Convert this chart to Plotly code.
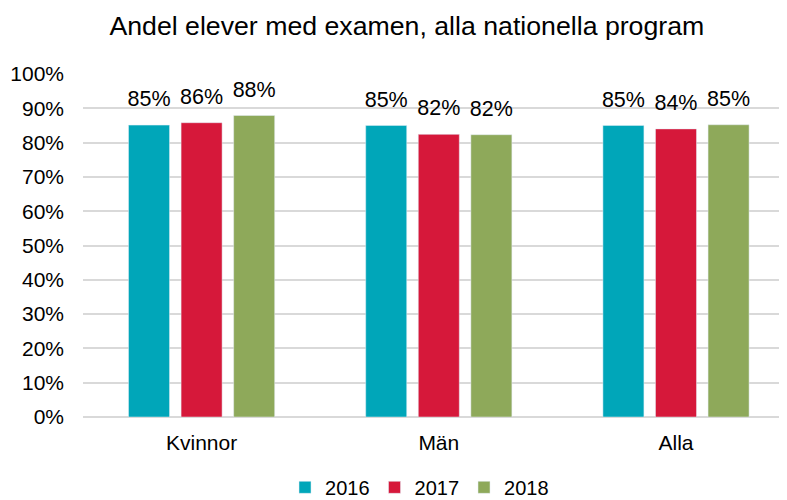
import plotly.graph_objects as go

categories = ["Kvinnor", "Män", "Alla"]
years = ["2016", "2017", "2018"]
values_2016 = [85.1, 85.0, 85.0]
values_2017 = [85.8, 82.4, 84.0]
values_2018 = [87.9, 82.3, 85.2]
colors = ["#00A6B9", "#D6183A", "#8EA95A"]
yticks = [0, 10, 20, 30, 40, 50, 60, 70, 80, 90, 100]

font = "Liberation Sans, Arial, sans-serif"
fig = go.Figure()
series = [values_2016, values_2017, values_2018]
for name, vals, col in zip(years, series, colors):
    fig.add_trace(go.Bar(
        x=categories, y=vals, name=name, marker_color=col,
        offsetgroup=name, cliponaxis=False,
    ))
for name, vals in zip(years, series):
    fig.add_trace(go.Scatter(
        x=categories, y=vals, mode="markers+text", offsetgroup=name,
        text=[f"{round(v)}%" for v in vals], textposition="top center",
        textfont=dict(size=21.5, color="#000000", family=font),
        marker=dict(size=20, color="rgba(0,0,0,0)"),
        showlegend=False, hoverinfo="skip", cliponaxis=False,
    ))

# page body has an 8px margin, so the figure is offset by 8px
fig.update_layout(
    width=779, height=492,
    margin=dict(l=75, r=0, t=66, b=83, autoexpand=False),
    paper_bgcolor="white", plot_bgcolor="white",
    barmode="group", bargap=0.335, bargroupgap=0.22,
    scattermode="group", scattergap=0.335,
    font=dict(family=font, size=20, color="#000000"),
    title=dict(text="Andel elever med examen, alla nationella program",
               x=0.512, xanchor="center", y=0.965, yanchor="middle",
               xref="container", yref="container",
               font=dict(size=26.7, color="#000000", family=font)),
    legend=dict(orientation="h", x=0.478, xanchor="center", y=-0.205, yanchor="middle",
                font=dict(size=20), itemwidth=30, traceorder="normal"),
    showlegend=True,
)
fig.update_xaxes(range=[-0.5, 2.468], showgrid=False, showline=False, zeroline=False,
                 ticks="", tickfont=dict(size=21), ticklabelstandoff=11, automargin=False)
fig.update_yaxes(range=[0, 100], tickvals=yticks, ticktext=[f"{t}%" for t in yticks],
                 showgrid=True, gridcolor="#D9D9D9", gridwidth=1.5, zeroline=True,
                 zerolinecolor="#D9D9D9", zerolinewidth=2, showline=False, ticks="",
                 tickfont=dict(size=21), ticklabelstandoff=18, automargin=False)

fig.write_html("out.html")
